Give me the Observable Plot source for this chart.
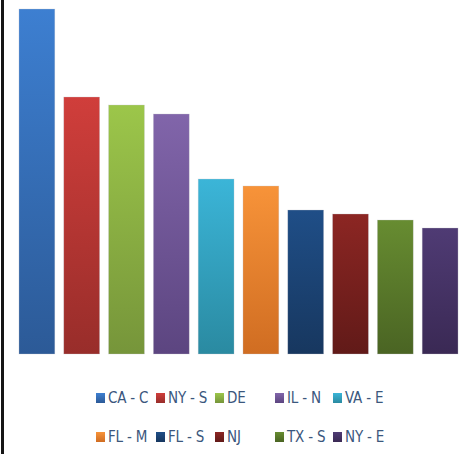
<!DOCTYPE html>
<html>
<head>
<meta charset="utf-8">
<script src="https://cdn.jsdelivr.net/npm/d3@7"></script>
<script src="https://cdn.jsdelivr.net/npm/@observablehq/plot@0.6"></script>
<style>
  html, body { margin: 0; padding: 0; background: #fff; }
  #wrap { position: relative; width: 466px; height: 454px; overflow: hidden; background: #fff; }
  #frame { position: absolute; left: 1px; top: 0; width: 3px; height: 454px; background: #151515; }
  #chart { position: absolute; left: 0; top: 0; }
  #legend {
    position: absolute; left: 96px; top: 388px;
    display: grid; grid-template-columns: 60px 59px 60px 58px 60px;
    row-gap: 19px;
    font-family: "Liberation Sans Narrow", "DejaVu Sans Condensed", "Liberation Sans", sans-serif;
    font-size: 15px; letter-spacing: -0.2px; color: #3b577d; line-height: 20px;
  }
  .item { display: flex; align-items: center; white-space: nowrap; }
  .sw { width: 9px; height: 10px; margin-right: 3px; flex: none; }
</style>
</head>
<body>
<div id="wrap">
  <div id="chart"></div>
  <div id="frame"></div>
  <div id="legend"></div>
</div>
<script>
const categories = ["CA - C", "NY - S", "DE", "IL - N", "VA - E", "FL - M", "FL - S", "NJ", "TX - S", "NY - E"];
const values = [345, 257, 249, 240, 175, 168, 144, 140, 134, 126];
const topColors = ["#3d7fd1", "#d03e3b", "#9cc64a", "#8165aa", "#3bb5d8", "#f79339", "#1f4e87", "#8c2623", "#678c31", "#4f3b74"];
const bottomColors = ["#2c5a97", "#982d2a", "#76953a", "#5c4580", "#2a8aa1", "#d06d22", "#17375f", "#611a18", "#4a6423", "#3a2954"];
const legendColors = ["#3b7bcc", "#cc3b38", "#98c246", "#7d61a5", "#38b0d2", "#f58e33", "#1d4a80", "#842422", "#627f2c", "#4b386e"];

const data = categories.map((c, i) => ({cat: c, value: values[i], i}));

const plot = Plot.plot({
  width: 466,
  height: 372,
  marginTop: 9,
  marginBottom: 18,
  marginLeft: 14.5,
  marginRight: 3.5,
  x: {domain: categories, paddingInner: 0.2, paddingOuter: 0.1, round: false, axis: null},
  y: {domain: [0, d3.max(values)], axis: null},
  color: {domain: categories, range: legendColors},
  marks: [
    Plot.barY(data, {x: "cat", y: "value", fill: "cat"})
  ]
});

// gradients
const svg = d3.select(plot);
const defs = svg.insert("defs", ":first-child");
categories.forEach((c, i) => {
  const g = defs.append("linearGradient").attr("id", "g" + i)
    .attr("x1", 0).attr("y1", 0).attr("x2", 0).attr("y2", 1);
  g.append("stop").attr("offset", "0%").attr("stop-color", topColors[i]);
  g.append("stop").attr("offset", "100%").attr("stop-color", bottomColors[i]);
});
svg.selectAll("g[aria-label='bar'] rect").each(function(d, k) {
  d3.select(this).attr("fill", `url(#g${k})`)
    .attr("stroke", "rgba(200,200,210,0.5)").attr("stroke-width", 0.6);
});
document.getElementById("chart").appendChild(plot);

// legend
const legend = d3.select("#legend");
categories.forEach((c, i) => {
  const it = legend.append("div").attr("class", "item");
  it.append("div").attr("class", "sw")
    .style("background", `linear-gradient(${topColors[i]}, ${bottomColors[i]})`);
  it.append("span").text(c);
});
</script>
</body>
</html>
